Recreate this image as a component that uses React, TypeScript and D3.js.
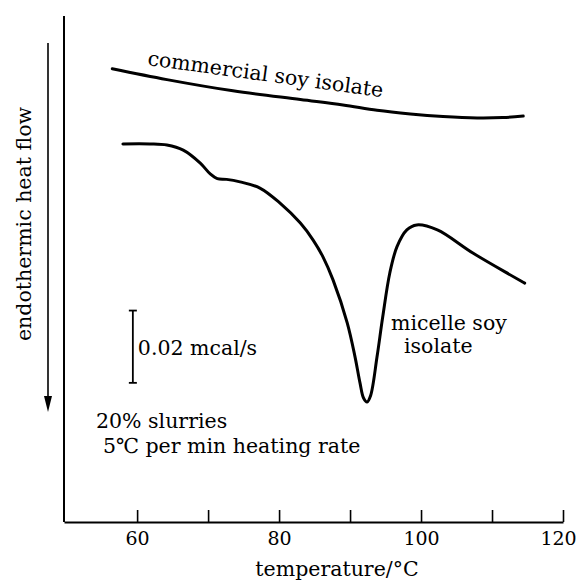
import * as d3 from "d3";
import { useEffect, useRef } from "react";

// temperature (°C) and heat flow (units of 0.01 mcal/s, arbitrary offset)
const commercialT = [56.5, 64.2, 73.5, 83.0, 89.0, 93.8, 98.5, 103.1, 107.9, 111.5, 114.4];
const commercialV = [12.54, 12.24, 11.93, 11.69, 11.54, 11.39, 11.29, 11.22, 11.18, 11.19, 11.23];

const micelleT = [
  58.0, 61.8, 64.2, 66.5, 68.9, 70.3, 71.3, 72.6, 74.5, 77.3, 80.1, 83.0, 84.8, 86.2, 87.6,
  89.6, 90.7, 91.4, 91.9, 92.4, 92.9, 93.8, 94.6, 95.6, 96.6, 98.0, 99.4, 102.3, 107.3, 114.6,
];
const micelleV = [
  10.46, 10.46, 10.43, 10.29, 9.93, 9.63, 9.5, 9.48, 9.41, 9.24, 8.83, 8.27, 7.8, 7.33, 6.7,
  5.51, 4.57, 3.85, 3.43, 3.32, 3.5, 4.57, 5.67, 6.89, 7.61, 8.08, 8.22, 8.08, 7.44, 6.61,
];

const xTicks = [60, 70, 80, 90, 100, 110, 120];
const xLabels = [60, 80, 100, 120];

// scale bar: 0.02 mcal/s
const scaleBar = { t: 59.4, from: 3.85, span: 2, label: "0.02 mcal/s" };

const W = 579;
const H = 586;
const font = "'DejaVu Serif', 'Liberation Serif', serif";
const fs = 20.5;

export default function App() {
  const ref = useRef<SVGSVGElement>(null);

  useEffect(() => {
    const svg = d3.select(ref.current);
    svg.selectAll("*").remove();

    const x = d3.scaleLinear().domain([49.7, 120]).range([64, 563]);
    const y = d3.scaleLinear().domain([0, 14]).range([522, 16]);

    // y axis line
    svg
      .append("line")
      .attr("x1", x(49.7))
      .attr("x2", x(49.7))
      .attr("y1", y(14))
      .attr("y2", y(0))
      .attr("stroke", "#000")
      .attr("stroke-width", 2);

    // x axis
    const axis = d3
      .axisBottom(x)
      .tickValues(xTicks)
      .tickSizeInner(-12)
      .tickSizeOuter(0)
      .tickPadding(10)
      .tickFormat((d) => (xLabels.includes(+d) ? String(d) : ""));

    const gx = svg.append("g").attr("transform", `translate(0,${y(0)})`).call(axis);
    gx.select(".domain").attr("stroke-width", 2);
    gx.selectAll(".tick line").attr("stroke-width", 1.6);
    gx.selectAll(".tick text")
      .attr("font-family", font)
      .attr("font-size", 19)
      .attr("fill", "#000")
      .attr("dx", (d) => (+d === 120 ? -5 : 0));

    svg
      .append("text")
      .attr("x", 337)
      .attr("y", 576)
      .attr("text-anchor", "middle")
      .attr("font-family", font)
      .attr("font-size", fs)
      .text("temperature/°C");

    // y label + arrow
    svg
      .append("text")
      .attr("transform", "translate(31,224) rotate(-90)")
      .attr("text-anchor", "middle")
      .attr("font-family", font)
      .attr("font-size", fs)
      .text("endothermic heat flow");

    svg
      .append("line")
      .attr("x1", 48)
      .attr("x2", 48)
      .attr("y1", 43)
      .attr("y2", 400)
      .attr("stroke", "#000")
      .attr("stroke-width", 1.6);
    svg
      .append("path")
      .attr("d", "M44,396 L52,396 L48,412 Z")
      .attr("fill", "#000");

    // curves
    const line = d3
      .line<[number, number]>()
      .x((d) => x(d[0]))
      .y((d) => y(d[1]))
      .curve(d3.curveCatmullRom.alpha(0.5));

    const commercial = commercialT.map((t, i) => [t, commercialV[i]] as [number, number]);
    const micelle = micelleT.map((t, i) => [t, micelleV[i]] as [number, number]);

    [commercial, micelle].forEach((s) => {
      svg
        .append("path")
        .attr("d", line(s))
        .attr("fill", "none")
        .attr("stroke", "#000")
        .attr("stroke-width", 3)
        .attr("stroke-linecap", "round");
    });

    // curve labels
    svg
      .append("text")
      .attr("transform", "translate(147,65) rotate(7.8)")
      .attr("font-family", font)
      .attr("font-size", fs)
      .text("commercial soy isolate");

    svg
      .append("text")
      .attr("x", 391)
      .attr("y", 330)
      .attr("font-family", font)
      .attr("font-size", fs)
      .text("micelle soy");
    svg
      .append("text")
      .attr("x", 404)
      .attr("y", 353)
      .attr("font-family", font)
      .attr("font-size", fs)
      .text("isolate");

    // scale bar
    const bx = x(scaleBar.t);
    const b0 = y(scaleBar.from);
    const b1 = y(scaleBar.from + scaleBar.span);
    const bar = svg.append("g").attr("stroke", "#000").attr("stroke-width", 1.8);
    bar.append("line").attr("x1", bx).attr("x2", bx).attr("y1", b0).attr("y2", b1);
    bar.append("line").attr("x1", bx - 4).attr("x2", bx + 4).attr("y1", b0).attr("y2", b0);
    bar.append("line").attr("x1", bx - 4).attr("x2", bx + 4).attr("y1", b1).attr("y2", b1);
    svg
      .append("text")
      .attr("x", bx + 5)
      .attr("y", (b0 + b1) / 2 + 8)
      .attr("font-family", font)
      .attr("font-size", fs)
      .text(scaleBar.label);

    // conditions
    svg
      .append("text")
      .attr("x", 96)
      .attr("y", 428)
      .attr("font-family", font)
      .attr("font-size", fs)
      .text("20% slurries");
    svg
      .append("text")
      .attr("x", 103)
      .attr("y", 453)
      .attr("font-family", font)
      .attr("font-size", fs)
      .text("5℃ per min heating rate");
  }, []);

  return (
    <svg
      ref={ref}
      width={W}
      height={H}
      style={{ position: "absolute", left: 0, top: 0, background: "#fff" }}
    />
  );
}
